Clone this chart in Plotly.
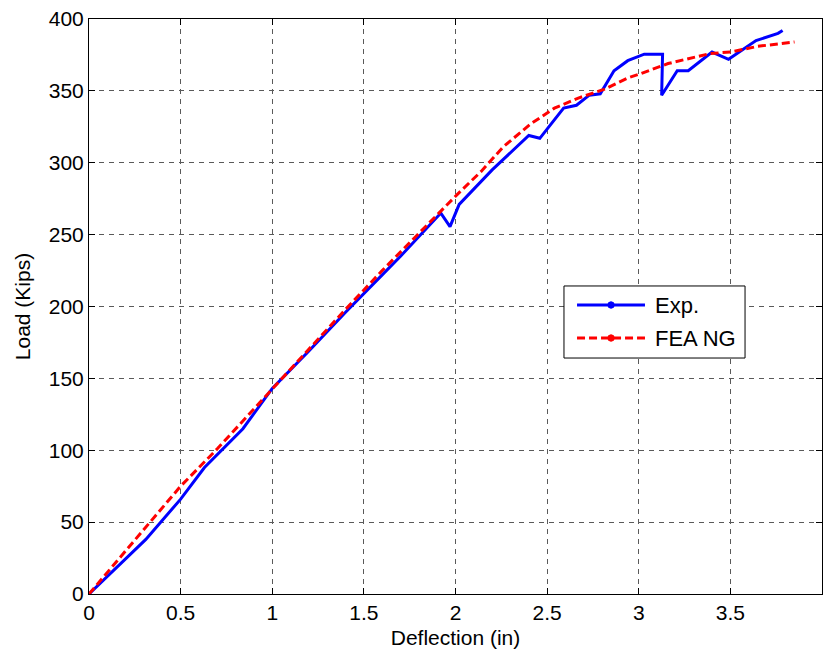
import plotly.graph_objects as go

# Experimental load-deflection curve
exp_defl = [0, 0.31, 0.50, 0.63, 0.84, 1.0, 1.2, 1.4, 1.6, 1.7, 1.92, 1.97, 2.02,
            2.12, 2.2, 2.4, 2.46, 2.59, 2.66, 2.73, 2.79, 2.865, 2.94, 3.03, 3.13,
            3.125, 3.21, 3.27, 3.40, 3.49, 3.64, 3.76, 3.785]
exp_load = [0, 38, 66, 88, 115, 143, 169, 196, 222, 235, 265, 255.6, 271,
            284, 295, 319, 317, 338, 340, 347, 348, 364, 371, 375.5, 375.5,
            347, 364, 364, 377, 372, 385, 390, 392]

# Finite element (no geometric nonlinearity) curve
fea_defl = [0, 0.33, 0.5, 0.7, 0.88, 1.0, 1.2, 1.4, 1.6, 1.7, 1.92, 2.01, 2.14,
            2.26, 2.41, 2.54, 2.67, 2.81, 2.94, 3.01, 3.16, 3.39, 3.5, 3.65, 3.85]
fea_load = [0, 50, 75, 101, 126, 142, 170, 198, 225, 238, 266, 278, 294,
            311, 327, 338, 345, 351, 359, 362, 369, 376, 377, 381, 384]

x_ticks = [0, 0.5, 1, 1.5, 2, 2.5, 3, 3.5, 4]
x_tick_text = ["0", "0.5", "1", "1.5", "2", "2.5", "3", "3.5", "4"]
y_ticks = [0, 50, 100, 150, 200, 250, 300, 350, 400]

series_names = ["Exp.", "FEA NG"]

FONT = "Liberation Sans, Arial, sans-serif"
FS = 21
BLUE = "#0000ff"
RED = "#ff0000"
RED_DASH = "8px,4px"

fig = go.Figure()

fig.add_trace(go.Scatter(x=exp_defl, y=exp_load, mode="lines", name=series_names[0],
                         line=dict(color=BLUE, width=3), showlegend=False))
fig.add_trace(go.Scatter(x=fea_defl, y=fea_load, mode="lines", name=series_names[1],
                         line=dict(color=RED, width=3, dash=RED_DASH), showlegend=False))

axis_common = dict(
    showline=True, linecolor="black", linewidth=1, mirror="allticks",
    ticks="inside", ticklen=6, tickcolor="black", tickwidth=1,
    showgrid=True, gridcolor="#5a5a5a", gridwidth=1, griddash="5px,5px",
    zeroline=False, tickfont=dict(family=FONT, size=FS, color="black"),
)

fig.update_xaxes(range=[0, 4], tickvals=x_ticks, ticktext=x_tick_text,
                 title=dict(text="Deflection (in)", font=dict(family=FONT, size=FS, color="black"),
                            standoff=7),
                 **axis_common)
fig.update_yaxes(range=[0, 400], tickvals=y_ticks,
                 title=dict(text="Load (Kips)", font=dict(family=FONT, size=FS, color="black"),
                            standoff=12),
                 **axis_common)

# Boxed legend with long line samples and a point marker on each
box = dict(x0=0.648, x1=0.895, y0=0.4104, y1=0.5357)
fig.add_shape(type="rect", xref="paper", yref="paper", **box,
              line=dict(color="black", width=1), fillcolor="white", layer="above")
legend_rows = [(0.5026, BLUE, "solid"), (0.4452, RED, RED_DASH)]
sx0, sx1, sxm = 0.6658, 0.7585, 0.7122
dot_w, dot_h = 3.2 / 733, 3.2 / 575
for (ly, col, dash), label in zip(legend_rows, series_names):
    fig.add_shape(type="line", xref="paper", yref="paper", x0=sx0, x1=sx1, y0=ly, y1=ly,
                  line=dict(color=col, width=3, dash=dash), layer="above")
    fig.add_shape(type="circle", xref="paper", yref="paper",
                  x0=sxm - dot_w, x1=sxm + dot_w, y0=ly - dot_h, y1=ly + dot_h,
                  line=dict(color=col, width=1), fillcolor=col, layer="above")
    fig.add_annotation(xref="paper", yref="paper", x=0.7694, y=ly, text=label,
                       showarrow=False, xanchor="left", yanchor="middle",
                       font=dict(family=FONT, size=22, color="black"))

fig.update_layout(
    width=825, height=656,
    margin=dict(l=89, r=3, t=19, b=62),
    paper_bgcolor="white", plot_bgcolor="white",
    font=dict(family=FONT, size=FS, color="black"),
    showlegend=False,
)

fig.write_html("out.html")
